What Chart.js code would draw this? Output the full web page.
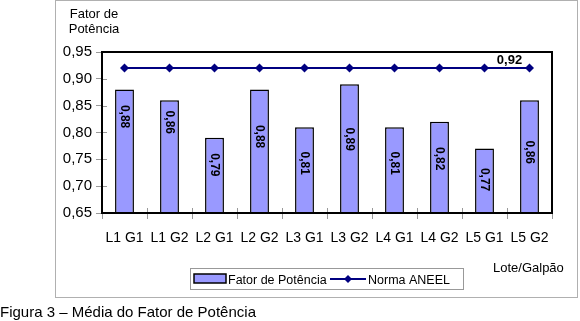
<!DOCTYPE html>
<html>
<head>
<meta charset="utf-8">
<script src="https://cdn.jsdelivr.net/npm/chart.js@4/dist/chart.umd.min.js"></script>
<style>
  html,body{margin:0;padding:0;background:#fff;}
  #wrap{width:580px;height:321px;position:relative;}
</style>
</head>
<body>
<div id="wrap"><canvas id="pfChart" width="580" height="321"></canvas></div>
<script>
/* ── data ── */
const LOTES = ['L1 G1','L1 G2','L2 G1','L2 G2','L3 G1','L3 G2','L4 G1','L4 G2','L5 G1','L5 G2'];
const FATOR = [0.88,0.86,0.79,0.88,0.81,0.89,0.81,0.82,0.77,0.86];
const NORMA = [0.92,0.92,0.92,0.92,0.92,0.92,0.92,0.92,0.92,0.92];
const Y_MIN = 0.65, Y_MAX = 0.95, Y_STEP = 0.05;

/* ── style ── */
const FONT = '"Liberation Sans", Arial, sans-serif';
const BAR_FILL = '#9999FF';
const NAVY = '#000080';
const TICK_GRAY = '#999999';
// hand-placed label drop below bar top (px), as in the original
const LABEL_DROP = [27,22,27,47,36,55,36,37,31,52];

const fmt = v => v.toFixed(2).replace('.', ',');

/* ── decorations: frame, titles, legend, labels ── */
const decor = {
  id:'decor',
  beforeDraw(chart){
    const c = chart.ctx;
    c.save();
    c.fillStyle = '#fff';
    c.fillRect(0,0,chart.width,chart.height);
    c.strokeStyle = '#b0b0b0'; c.lineWidth = 1;
    c.strokeRect(55.5,0.5,522,297);
    c.restore();
  },
  afterDatasetsDraw(chart){
    const c = chart.ctx, a = chart.chartArea;
    const xs = chart.scales.x, ys = chart.scales.y;
    c.save();
    // inner halves of the tick marks
    c.strokeStyle = TICK_GRAY; c.lineWidth = 1;
    ys.ticks.forEach((t,i)=>{
      const y = Math.round(ys.getPixelForTick(i))+0.5;
      c.beginPath(); c.moveTo(a.left,y); c.lineTo(a.left+5,y); c.stroke();
    });
    for(let i=1;i<LOTES.length;i++){
      const x = Math.round((xs.getPixelForTick(i)+xs.getPixelForTick(i-1))/2)+0.5;
      c.beginPath(); c.moveTo(x,a.bottom); c.lineTo(x,a.bottom-5); c.stroke();
    }
    // plot frame
    c.strokeStyle = '#000'; c.lineWidth = 2;
    c.strokeRect(a.left, a.top, a.right-a.left, a.bottom-a.top);

    // bar value labels, rotated
    c.fillStyle = '#000';
    c.font = 'bold 12px '+FONT;
    c.textAlign = 'center'; c.textBaseline = 'middle';
    chart.getDatasetMeta(0).data.forEach((el,i)=>{
      c.save();
      c.translate(el.x, el.y + LABEL_DROP[i]);
      c.rotate(Math.PI/2);
      c.fillText(fmt(FATOR[i]),0,0);
      c.restore();
    });
    // norma label on last point
    const pts = chart.getDatasetMeta(1).data;
    const last = pts[pts.length-1];
    c.font = 'bold 13px '+FONT;
    c.fillText(fmt(NORMA[NORMA.length-1]), last.x-20, last.y-8);
    c.restore();
  },
  afterDraw(chart){
    const c = chart.ctx;
    c.save();
    c.fillStyle = '#000';
    c.textBaseline = 'alphabetic';
    // axis titles
    c.font = '13px '+FONT; c.textAlign = 'center';
    c.fillText('Fator de', 94, 17.5);
    c.fillText('Potência', 94, 33);
    c.textAlign = 'left';
    c.fillText('Lote/Galpão', 493, 272);

    // legend
    c.strokeStyle = '#999'; c.lineWidth = 1;
    c.strokeRect(190.5,268.5,273,21);
    c.fillStyle = BAR_FILL; c.fillRect(194,274,32,9);
    c.strokeStyle = '#000'; c.lineWidth = 1.5; c.strokeRect(194,274,32,9);
    c.fillStyle = '#000'; c.font = '12.5px '+FONT;
    c.fillText('Fator de Potência', 228, 283.5);
    c.strokeStyle = NAVY; c.lineWidth = 2;
    c.beginPath(); c.moveTo(330,279); c.lineTo(366,279); c.stroke();
    c.fillStyle = NAVY;
    c.beginPath(); c.moveTo(348,275); c.lineTo(352,279); c.lineTo(348,283); c.lineTo(344,279); c.closePath(); c.fill();
    c.fillStyle = '#000';
    c.fillText('Norma ANEEL', 368, 283.5);

    // caption
    c.font = '15px '+FONT;
    c.fillText('Figura 3 – Média do Fator de Potência', 0, 317);
    c.restore();
  }
};

function buildChart(){
  const ctx = document.getElementById('pfChart').getContext('2d');
  new Chart(ctx,{
    type:'bar',
    data:{
      labels: LOTES,
      datasets:[
        { type:'bar', label:'Fator de Potência', data:FATOR, backgroundColor:BAR_FILL, borderColor:'#000', borderWidth:1.5,
          barPercentage:0.42, categoryPercentage:1, order:2 },
        { type:'line', label:'Norma ANEEL', data:NORMA, borderColor:NAVY, backgroundColor:NAVY, borderWidth:2,
          pointStyle:'rectRot', pointRadius:4.5, pointBackgroundColor:NAVY, pointBorderWidth:0, tension:0, order:1 }
      ]
    },
    options:{
      responsive:false, animation:false,
      layout:{ padding:{ left:55, top:52, right:28, bottom:68 } },
      plugins:{ legend:{display:false}, tooltip:{enabled:false} },
      scales:{
        x:{
          grid:{ drawOnChartArea:false, color:TICK_GRAY, tickLength:6, offset:true },
          border:{ display:true, color:'#000', width:2 },
          ticks:{ color:'#000', font:{family:FONT,size:14}, padding:11, maxRotation:0, autoSkip:false },
          afterFit: s => { s.height = 40; }
        },
        y:{
          min:Y_MIN, max:Y_MAX,
          grid:{ drawOnChartArea:false, color:TICK_GRAY, tickLength:6 },
          border:{ display:true, color:'#000', width:2 },
          ticks:{ stepSize:Y_STEP, color:'#000', font:{family:FONT,size:15}, padding:4, callback:v=>fmt(v) },
          afterFit: s => { s.width = 47; }
        }
      }
    },
    plugins:[decor]
  });
}

window.addEventListener('DOMContentLoaded', buildChart);
</script>
</body>
</html>
